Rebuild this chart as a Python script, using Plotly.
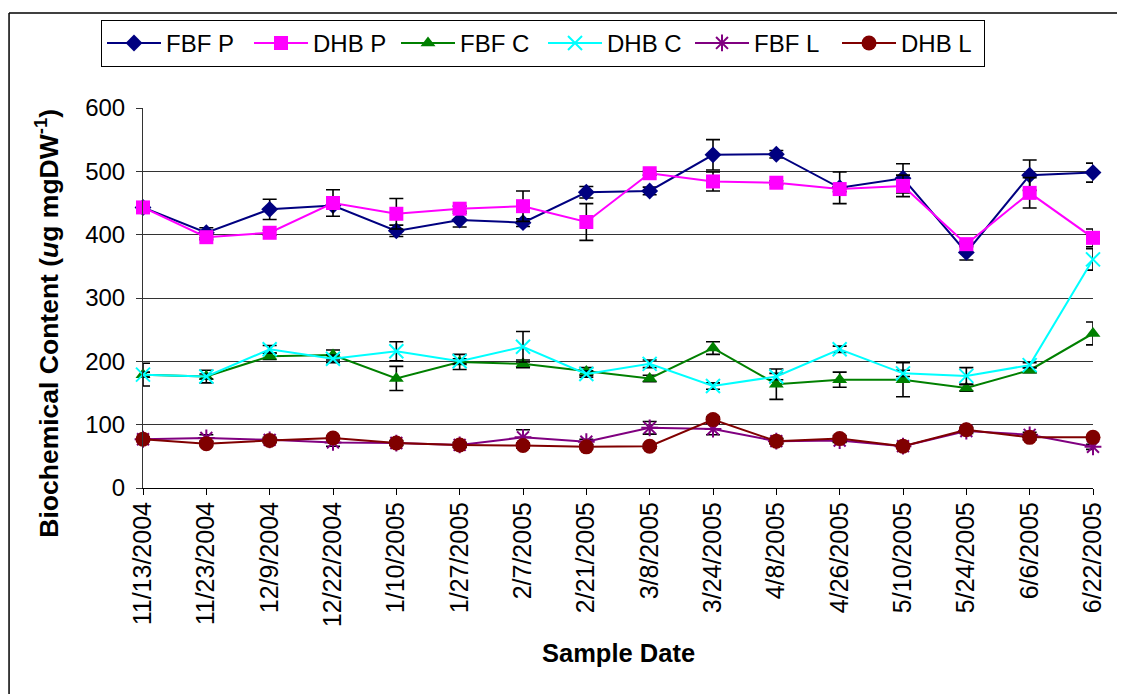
import plotly.graph_objects as go

dates = ["11/13/2004", "11/23/2004", "12/9/2004", "12/22/2004", "1/10/2005", "1/27/2005",
         "2/7/2005", "2/21/2005", "3/8/2005", "3/24/2005", "4/8/2005", "4/26/2005",
         "5/10/2005", "5/24/2005", "6/6/2005", "6/22/2005"]

fbf_p = [443, 403, 440, 446, 406, 423, 419, 467, 469, 526, 527, 474, 489, 372, 494, 498]
fbf_p_err = [3, 8, 16, 4, 9, 11, 6, 9, 6, 24, 6, 25, 23, 12, 24, 15]
dhb_p = [443, 396, 403, 450, 433, 441, 445, 420, 497, 484, 482, 472, 477, 385, 466, 395]
dhb_p_err = [3, 4, 4, 21, 24, 4, 24, 29, 3, 15, 3, 4, 17, 4, 24, 14]
fbf_c = [179, 176, 208, 210, 173, 199, 196, 184, 173, 221, 164, 171, 171, 158, 186, 244]
fbf_c_err = [18, 10, 5, 8, 19, 12, 6, 6, 5, 10, 24, 12, 27, 5, 4, 18]
dhb_c = [179, 176, 219, 204, 216, 200, 223, 180, 196, 161, 176, 219, 181, 177, 194, 361]
dhb_c_err = [4, 4, 6, 6, 15, 4, 24, 5, 6, 5, 5, 5, 5, 13, 4, 17]
fbf_l = [77, 79, 76, 72, 71, 68, 80, 73, 95, 93, 74, 75, 66, 90, 84, 65]
fbf_l_err = [3, 5, 4, 6, 4, 4, 12, 4, 10, 9, 4, 3, 3, 4, 4, 4]
dhb_l = [77, 70, 75, 79, 71, 68, 67, 65, 66, 108, 74, 78, 66, 92, 80, 80]
dhb_l_err = [3, 3, 3, 3, 3, 3, 4, 3, 3, 5, 4, 5, 3, 4, 4, 3]

y_ticks = [0, 100, 200, 300, 400, 500, 600]

series = [
    ("FBF P", fbf_p, fbf_p_err, "#000080", dict(symbol="diamond", size=13)),
    ("DHB P", dhb_p, dhb_p_err, "#FF00FF", dict(symbol="square", size=14)),
    ("FBF C", fbf_c, fbf_c_err, "#008000", dict(symbol="triangle-up", size=13)),
    ("DHB C", dhb_c, dhb_c_err, "#00FFFF", dict(symbol="x-thin-open", size=14, line=dict(width=2, color="#00FFFF"))),
    ("FBF L", fbf_l, fbf_l_err, "#800080", dict(symbol="asterisk-open", size=14, line=dict(width=2, color="#800080"))),
    ("DHB L", dhb_l, dhb_l_err, "#800000", dict(symbol="circle", size=15)),
]

x_idx = list(range(len(dates)))
FONT = "Liberation Sans, Arial, sans-serif"

fig = go.Figure()
for name, vals, errs, color, mk in series:
    fig.add_trace(go.Scatter(
        x=x_idx, y=vals, name=name, mode="lines+markers",
        line=dict(color=color, width=2),
        marker=dict(color=color, **mk),
        error_y=dict(type="data", array=errs, visible=True, color="black", thickness=1.6, width=7),
        cliponaxis=False,
    ))

# The page body has an 8px margin, so the margins are reduced by 8px to keep the plot in place.
fig.update_layout(
    width=1125, height=694,
    margin=dict(l=135, r=40, t=96, b=214),
    paper_bgcolor="white", plot_bgcolor="white",
    font=dict(family=FONT, color="black", size=22),
    showlegend=True,
    legend=dict(
        orientation="h", x=-0.0442, y=1.232, xanchor="left", yanchor="top",
        bordercolor="black", borderwidth=1, font=dict(size=24),
        itemwidth=54, entrywidth=78, traceorder="normal",
    ),
    xaxis=dict(
        range=[0, 15], tickmode="array", tickvals=x_idx, ticktext=dates,
        tickangle=-90, showgrid=False, zeroline=False,
        showline=True, linecolor="black", linewidth=1,
        ticks="outside", ticklen=6, tickcolor="black", tickfont=dict(size=25),
        ticklabelstandoff=-3,
    ),
    yaxis=dict(
        range=[0, 600], tickmode="array", tickvals=y_ticks,
        showgrid=True, gridcolor="#333333", gridwidth=1, zeroline=False,
        showline=True, linecolor="#333333", linewidth=1,
        ticks="outside", ticklen=6, tickcolor="#333333", tickfont=dict(size=24),
        ticklabelstandoff=6,
    ),
    annotations=[
        dict(text="<b>Biochemical Content (</b><b><i>u</i></b><b>g mgDW<sup>-1</sup>)</b>",
             xref="paper", yref="paper", x=-0.1011, y=0.435, textangle=-90,
             showarrow=False, xanchor="center", yanchor="middle", font=dict(size=26.5)),
        dict(text="<b>Sample Date</b>", xref="paper", yref="paper", x=0.5, y=-0.435,
             showarrow=False, xanchor="center", yanchor="middle", font=dict(size=25.5)),
    ],
    shapes=[
        dict(type="line", xref="paper", yref="paper", x0=-0.141, x1=1.2, y0=1.25, y1=1.25,
             line=dict(color="black", width=1.5), layer="below"),
        dict(type="line", xref="paper", yref="paper", x0=-0.141, x1=-0.141, y0=-0.7, y1=1.25,
             line=dict(color="black", width=1.5), layer="below"),
    ],
)

# Hide the page scrollbars that the 8px body margin would otherwise cause.
fig.write_html("out.html",
               post_script="document.documentElement.style.overflow='hidden';"
                           "document.body.style.overflow='hidden';")
